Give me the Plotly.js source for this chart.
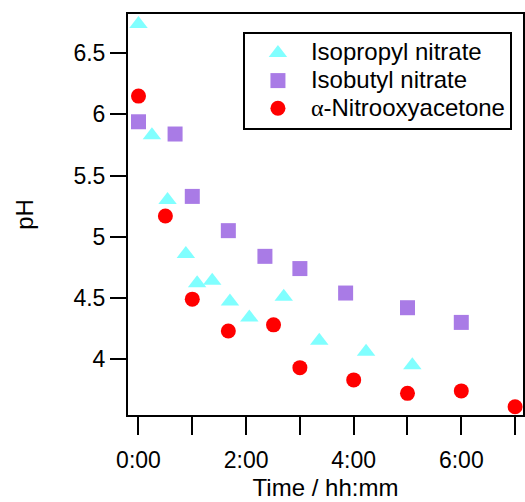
<!DOCTYPE html>
<html>
<head>
<meta charset="utf-8">
<script src="https://cdn.plot.ly/plotly-3.0.1.min.js"></script>
<style>html,body{margin:0;padding:0;background:#fff;}#chart{width:525px;height:502px;}</style>
</head>
<body>
<div id="chart"></div>
<script>
// Time in hours, pH values
const isopropylTime = [0, 0.25, 0.54, 0.88, 1.09, 1.37, 1.70, 2.06, 2.70, 3.36, 4.23, 5.09];
const isopropylPH   = [6.74, 5.83, 5.30, 4.86, 4.62, 4.64, 4.47, 4.34, 4.51, 4.15, 4.06, 3.95];

const isobutylTime = [0, 0.68, 1.0, 1.67, 2.35, 3.0, 3.85, 5.0, 6.0];
const isobutylPH   = [5.94, 5.84, 5.33, 5.05, 4.84, 4.74, 4.54, 4.42, 4.30];

const nitrooxyTime = [0, 0.5, 1.0, 1.67, 2.51, 3.0, 4.0, 5.0, 6.0, 7.0];
const nitrooxyPH   = [6.15, 5.17, 4.49, 4.23, 4.28, 3.93, 3.83, 3.72, 3.74, 3.61];

const seriesNames = ['Isopropyl nitrate', 'Isobutyl nitrate',
  '<span style="font-family:Liberation Serif">\u03B1</span>-Nitrooxyacetone'];

const xTickVals = [0, 1, 2, 3, 4, 5, 6, 7];
const xTickText = ['0:00', '', '2:00', '', '4:00', '', '6:00', ''];
const yTickVals = [4, 4.5, 5, 5.5, 6, 6.5];
const yTickText = ['4', '4.5', '5', '5.5', '6', '6.5'];

const legendLabel = s => '<span style="font-size:24px">' + s + '</span>';

const traces = [
  {x: isopropylTime, y: isopropylPH, name: legendLabel(seriesNames[0]), type: 'scatter', mode: 'markers',
   marker: {symbol: 'triangle-up', size: 16, color: '#80FFFF', line: {width: 0}}},
  {x: isobutylTime, y: isobutylPH, name: legendLabel(seriesNames[1]), type: 'scatter', mode: 'markers',
   marker: {symbol: 'square', size: 15, color: '#A97BE6', line: {width: 0}}},
  {x: nitrooxyTime, y: nitrooxyPH, name: legendLabel(seriesNames[2]), type: 'scatter', mode: 'markers',
   marker: {symbol: 'circle', size: 15, color: '#FF0000', line: {width: 0}}}
];

const fam = 'Liberation Sans, Arial, sans-serif';
const tickFont = {family: fam, size: 23, color: '#000'};
const titleFont = {family: fam, size: 24, color: '#000'};

const layout = {
  width: 525, height: 502,
  margin: {l: 128, r: 2, t: 14, b: 87},
  paper_bgcolor: '#fff', plot_bgcolor: '#fff',
  font: tickFont,
  showlegend: true,
  legend: {
    x: 0.291, y: 0.955, xanchor: 'left', yanchor: 'top',
    bgcolor: '#fff', bordercolor: '#000', borderwidth: 2,
    font: {family: fam, size: 19, color: '#000'}, itemwidth: 56, tracegroupgap: 0
  },
  xaxis: {
    range: [-0.195, 7.147],
    tickmode: 'array', tickvals: xTickVals, ticktext: xTickText,
    ticks: 'outside', ticklen: 18, tickwidth: 2, tickcolor: '#000',
    ticklabelstandoff: 5,
    showline: true, linewidth: 2, linecolor: '#000', mirror: true,
    showgrid: false, zeroline: false,
    tickfont: tickFont,
    title: {text: 'Time / hh:mm', font: titleFont, standoff: 8}
  },
  yaxis: {
    range: [3.543, 6.821],
    tickmode: 'array', tickvals: yTickVals, ticktext: yTickText,
    ticks: 'outside', ticklen: 16, tickwidth: 2, tickcolor: '#000',
    showline: true, linewidth: 2, linecolor: '#000', mirror: true,
    showgrid: false, zeroline: false,
    tickfont: tickFont,
    title: {text: 'pH', font: titleFont, standoff: 33}
  }
};

Plotly.newPlot('chart', traces, layout, {displayModeBar: false, staticPlot: true});
</script>
</body>
</html>
